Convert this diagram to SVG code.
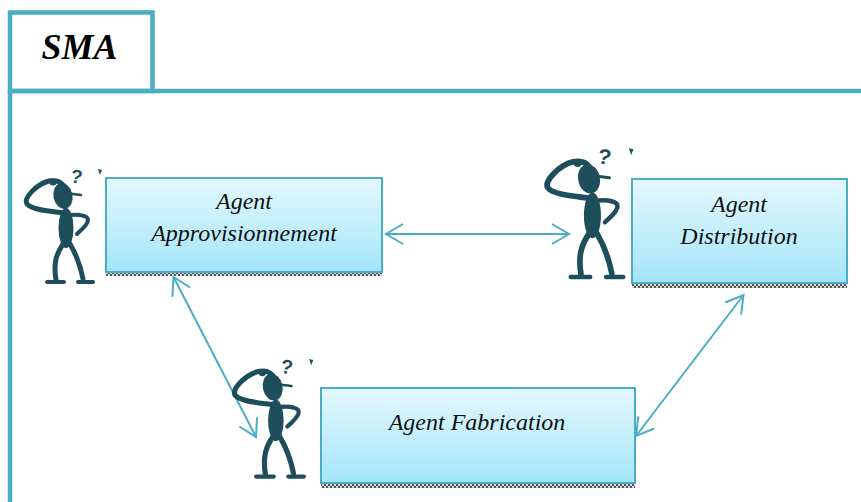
<svg xmlns="http://www.w3.org/2000/svg" width="861" height="502" viewBox="0 0 861 502">
  <style>
    .frame { fill: none; stroke: #4BACC6; stroke-width: 4.5; }
    .box { fill: url(#boxFill); stroke: #4BACC6; stroke-width: 2; }
    .strip { fill: url(#checker); }
    .label { font-family: "Liberation Serif", "Times New Roman", serif; font-style: italic; font-size: 24px; fill: #111; text-anchor: middle; }
    .title { font-family: "Liberation Serif", "Times New Roman", serif; font-style: italic; font-weight: bold; font-size: 36px; fill: #000; text-anchor: middle; }
    .link { fill: none; stroke: #4BACC6; stroke-width: 2; }
    .ink { fill: none; stroke: #1E4E5B; stroke-linecap: round; stroke-linejoin: round; }
    .q { font-family: "Liberation Sans", Arial, sans-serif; font-weight: bold; font-size: 19px; fill: #1E4E5B; }
  </style>
  <defs>
    <linearGradient id="boxFill" x1="0" y1="0" x2="0" y2="1">
      <stop offset="0" stop-color="#E3F8FE"/>
      <stop offset="1" stop-color="#A4E5F8"/>
    </linearGradient>
    <pattern id="checker" width="4" height="4" patternUnits="userSpaceOnUse">
      <rect width="4" height="4" fill="#d8d8d8"/>
      <rect width="2" height="2" fill="#555"/>
      <rect x="2" y="2" width="2" height="2" fill="#555"/>
    </pattern>
    <!-- open chevron arrowhead, tip at the path end -->
    <marker id="chev" markerWidth="22" markerHeight="24" refX="19" refY="12" orient="auto-start-reverse" markerUnits="userSpaceOnUse" overflow="visible">
      <path d="M2,2 L19,12 L2,22" fill="none" stroke="#4BACC6" stroke-width="2"/>
    </marker>
    <!-- thinking stick figure, local size about 82 x 115 -->
    <g id="thinker">
      <text class="q" x="51" y="15" transform="rotate(10 56 8)">?</text>
      <path d="M78,1 L82,2 L80,7 Z" fill="#1E4E5B"/>
      <ellipse cx="43" cy="28" rx="9.5" ry="13" fill="#1E4E5B" transform="rotate(-12 43 28)"/>
      <path class="ink" d="M45,25 L61,27" stroke-width="2.5"/>
      <path class="ink" d="M44,45 C30,43 12,42 7,36 C3,30 17,16 29,13 C35,12 40,13 43,17" stroke-width="5"/>
      <circle cx="33" cy="14" r="3.5" fill="#1E4E5B"/>
      <ellipse cx="46" cy="60" rx="7.5" ry="20" fill="#1E4E5B"/>
      <path class="ink" d="M51,47 C60,46 68,48 68,52 C68,57 61,62 57,66" stroke-width="4"/>
      <path class="ink" d="M43,76 C37,85 33,94 36,112" stroke-width="5"/>
      <path class="ink" d="M27,114 L44,114" stroke-width="4"/>
      <path class="ink" d="M50,76 C56,86 60,96 63,111" stroke-width="5"/>
      <path class="ink" d="M58,114 L73,114" stroke-width="4"/>
    </g>
  </defs>

  <rect width="861" height="502" fill="#ffffff"/>

  <!-- outer frame with title tab -->
  <g id="frame">
    <rect class="frame" x="10" y="12.5" width="142.5" height="78.5"/>
    <path class="frame" d="M8,91 L861,91" stroke-width="5"/>
    <path class="frame" d="M10,91 L10,502"/>
    <text class="title" x="79.5" y="59">SMA</text>
  </g>

  <!-- connectors -->
  <g id="connectors">
    <path class="link" d="M386,234 L569,234" marker-start="url(#chev)" marker-end="url(#chev)"/>
    <path class="link" d="M173.5,277 L256,437" marker-start="url(#chev)" marker-end="url(#chev)"/>
    <path class="link" d="M743.5,295 L636,436" marker-start="url(#chev)" marker-end="url(#chev)"/>
  </g>

  <g id="agent-approvisionnement">
    <use href="#thinker" transform="translate(20,168)"/>
    <rect class="strip" x="106" y="272" width="276" height="4"/>
    <rect class="box" x="106" y="178" width="276" height="94"/>
    <text class="label" x="244" y="209">Agent</text>
    <text class="label" x="244" y="241">Approvisionnement</text>
  </g>

  <g id="agent-distribution">
    <use href="#thinker" transform="translate(540,147) scale(1.14)"/>
    <rect class="strip" x="632" y="283" width="215" height="5"/>
    <rect class="box" x="632" y="179" width="215" height="104"/>
    <text class="label" x="739" y="212">Agent</text>
    <text class="label" x="739" y="244">Distribution</text>
  </g>

  <g id="agent-fabrication">
    <use href="#thinker" transform="translate(228,358) scale(1.04)"/>
    <rect class="strip" x="321" y="483" width="314" height="5"/>
    <rect class="box" x="321" y="388" width="314" height="95"/>
    <text class="label" x="477" y="430">Agent Fabrication</text>
  </g>
</svg>
